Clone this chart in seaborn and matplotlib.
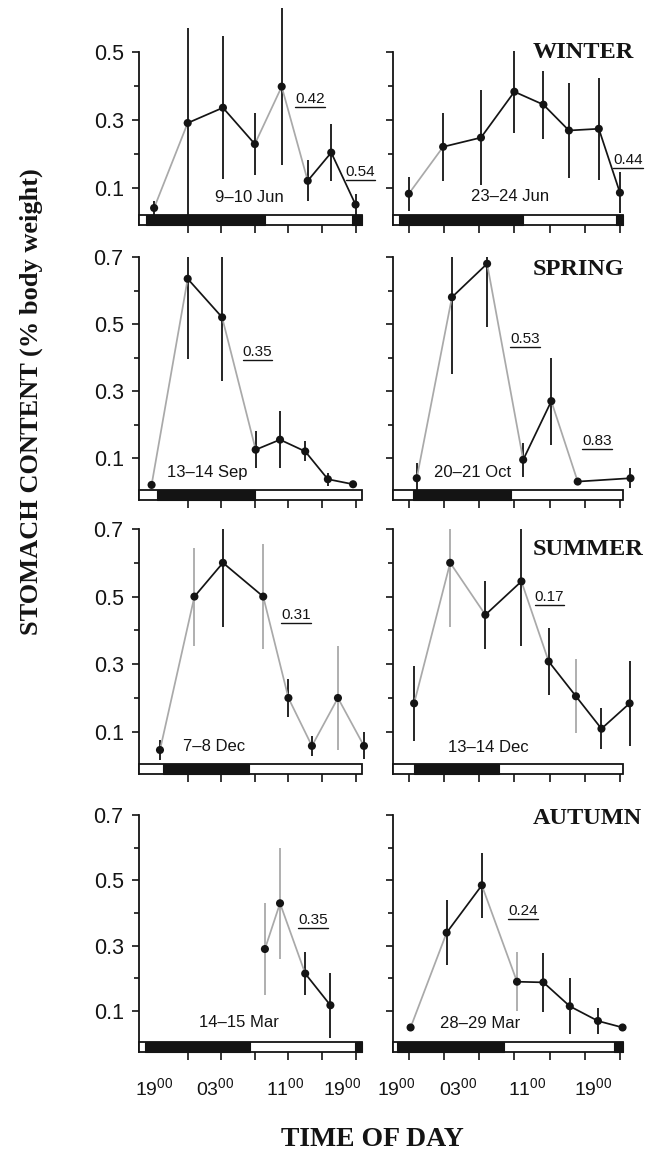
import numpy as np
import pandas as pd
import matplotlib
matplotlib.use("Agg")
import matplotlib.pyplot as plt
from matplotlib.patches import Rectangle
from matplotlib.collections import LineCollection
from matplotlib.lines import Line2D
from matplotlib.transforms import IdentityTransform
import seaborn as sns

# time axis: hours after 19:00 on the first day of each survey
# ---- winter ----
JUN09_T = [0.0, 4.0, 8.2, 12.0, 15.2, 18.3, 21.1, 24.0]
JUN09_Y = [0.04, 0.29, 0.335, 0.228, 0.397, 0.12, 0.203, 0.05]
JUN09_SE = [0.02, 0.28, 0.21, 0.09, 0.23, 0.06, 0.085, 0.03]
JUN09_NIGHT = [(-1.0, 13.2), (23.6, 24.8)]
JUN09_RATES = ["0.42", "0.54"]

JUN23_T = [0.0, 3.9, 8.2, 12.0, 15.3, 18.2, 21.6, 24.0]
JUN23_Y = [0.082, 0.22, 0.247, 0.382, 0.344, 0.268, 0.273, 0.085]
JUN23_SE = [0.05, 0.1, 0.14, 0.12, 0.1, 0.14, 0.15, 0.06]
JUN23_NIGHT = [(-1.1, 13.0), (23.6, 24.4)]
JUN23_RATES = ["0.44"]

# ---- spring ----
SEP13_T = [-0.3, 4.0, 8.1, 12.1, 15.0, 18.0, 20.7, 23.7]
SEP13_Y = [0.02, 0.635, 0.52, 0.125, 0.155, 0.12, 0.037, 0.022]
SEP13_SE = [0.01, 0.24, 0.19, 0.055, 0.085, 0.03, 0.02, 0.0]
SEP13_NIGHT = [(0.35, 12.0)]
SEP13_RATES = ["0.35"]

OCT20_T = [0.9, 4.9, 8.9, 13.0, 16.2, 19.2, 25.2]
OCT20_Y = [0.04, 0.58, 0.68, 0.095, 0.27, 0.03, 0.04]
OCT20_SE = [0.045, 0.23, 0.19, 0.05, 0.13, 0.01, 0.03]
OCT20_NIGHT = [(0.45, 11.6)]
OCT20_RATES = ["0.53", "0.83"]

# ---- summer ----
DEC07_T = [0.7, 4.8, 8.2, 13.0, 16.0, 18.8, 21.9, 25.0]
DEC07_Y = [0.046, 0.5, 0.6, 0.5, 0.2, 0.058, 0.2, 0.058]
DEC07_SE = [0.03, 0.145, 0.19, 0.155, 0.055, 0.03, 0.155, 0.04]
DEC07_NIGHT = [(1.07, 11.3)]
DEC07_RATES = ["0.31"]

DEC13_T = [0.6, 4.7, 8.7, 12.8, 15.9, 19.0, 21.9, 25.1]
DEC13_Y = [0.184, 0.6, 0.446, 0.545, 0.308, 0.205, 0.109, 0.184]
DEC13_SE = [0.11, 0.19, 0.1, 0.19, 0.1, 0.11, 0.06, 0.125]
DEC13_NIGHT = [(0.57, 10.3)]
DEC13_RATES = ["0.17"]

# ---- autumn ----
MAR14_T = [13.2, 15.0, 18.0, 21.0]
MAR14_Y = [0.29, 0.43, 0.215, 0.118]
MAR14_SE = [0.14, 0.17, 0.065, 0.1]
MAR14_NIGHT = [(-1.07, 11.4), (23.9, 24.8)]
MAR14_RATES = ["0.35"]

MAR28_T = [0.2, 4.3, 8.3, 12.3, 15.3, 18.3, 21.5, 24.3]
MAR28_Y = [0.05, 0.34, 0.485, 0.19, 0.188, 0.115, 0.07, 0.05]
MAR28_SE = [0.01, 0.1, 0.1, 0.09, 0.09, 0.085, 0.04, 0.01]
MAR28_NIGHT = [(-1.4, 10.8), (23.3, 24.4)]
MAR28_RATES = ["0.24"]

SEASONS = ["WINTER", "SPRING", "SUMMER", "AUTUMN"]
DATES = ["9–10 Jun", "23–24 Jun", "13–14 Sep", "20–21 Oct",
         "7–8 Dec", "13–14 Dec", "14–15 Mar", "28–29 Mar"]
TIME_TICKS = [0, 4, 8, 12, 16, 20, 24]
TIME_LABELS = ["19", "03", "11", "19"]

# ---- style / layout ----
INK = "#141414"
GREY = "#a9a9a9"
COLS = {"k": INK, "g": GREY}
W, H = 653, 1155
COL_X = [(139, 230), (393, 241)]           # left px, width px
ROW_Y = [(4, 225), (257, 500), (529, 774), (815, 1052)]  # top, bottom px
ROW_LIM = [(-0.01, 0.64), (-0.025, 0.7), (-0.025, 0.7), (-0.025, 0.7)]
BAR_END = [24.8, 24.4]
XLIM = (-1.8, 25.6)
LABEL_POS = [[0, 7.3, 15.6, 22.4], [-1.4, 5.6, 13.5, 21.0]]

panels = [
    dict(t=JUN09_T, y=JUN09_Y, se=JUN09_SE, night=JUN09_NIGHT, rates=JUN09_RATES,
         seg="gkkggkk", err="kkkkkkkk", rate_xy=[(18.6, 0.36), (24.6, 0.147)], date_xy=(11.4, 0.07)),
    dict(t=JUN23_T, y=JUN23_Y, se=JUN23_SE, night=JUN23_NIGHT, rates=JUN23_RATES,
         seg="gkkkkkk", err="kkkkkkkk", rate_xy=[(24.9, 0.18)], date_xy=(11.5, 0.074)),
    dict(t=SEP13_T, y=SEP13_Y, se=SEP13_SE, night=SEP13_NIGHT, rates=SEP13_RATES,
         seg="gkgkkkk", err="kkkkkkkk", rate_xy=[(12.3, 0.418)], date_xy=(6.3, 0.058)),
    dict(t=OCT20_T, y=OCT20_Y, se=OCT20_SE, night=OCT20_NIGHT, rates=OCT20_RATES,
         seg="gkgkgk", err="kkkkkkk", rate_xy=[(13.2, 0.454), (21.4, 0.15)], date_xy=(7.2, 0.058)),
    dict(t=DEC07_T, y=DEC07_Y, se=DEC07_SE, night=DEC07_NIGHT, rates=DEC07_RATES,
         seg="gkkgggg", err="kgkgkkgk", rate_xy=[(16.9, 0.446)], date_xy=(7.1, 0.055)),
    dict(t=DEC13_T, y=DEC13_Y, se=DEC13_SE, night=DEC13_NIGHT, rates=DEC13_RATES,
         seg="ggkgkkk", err="kgkkkgkk", rate_xy=[(16.0, 0.498)], date_xy=(9.0, 0.052)),
    dict(t=MAR14_T, y=MAR14_Y, se=MAR14_SE, night=MAR14_NIGHT, rates=MAR14_RATES,
         seg="ggk", err="ggkk", rate_xy=[(18.9, 0.379)], date_xy=(10.1, 0.064)),
    dict(t=MAR28_T, y=MAR28_Y, se=MAR28_SE, night=MAR28_NIGHT, rates=MAR28_RATES,
         seg="gkgkkkk", err="kkkgkkkk", rate_xy=[(13.0, 0.406)], date_xy=(8.1, 0.061)),
]
SEASON_Y = [0.78, 0.95, 0.918, 0.987]

sns.set_style("ticks")
plt.rcParams["font.family"] = ["Liberation Sans", "DejaVu Sans"]
plt.rcParams["mathtext.default"] = "regular"

fig = plt.figure(figsize=(W / 100, H / 100), dpi=100)
serif = dict(family="Liberation Serif", weight="bold", color=INK)
rate_texts = []

for i, p in enumerate(panels):
    row, col = divmod(i, 2)
    x0, w = COL_X[col]
    top, bot = ROW_Y[row]
    ax = fig.add_axes([x0 / W, 1 - bot / H, w / W, (bot - top) / H])
    ylo, yhi = ROW_LIM[row]
    bar_top = ylo + 0.03
    ax.set_xlim(*XLIM)
    ax.set_ylim(ylo, yhi)

    df = pd.DataFrame({"t": p["t"], "y": p["y"], "se": p["se"]})

    # error bars
    lo = np.clip(df["y"] - df["se"], bar_top, yhi)
    hi = np.clip(df["y"] + df["se"], bar_top, yhi if row > 0 else 1)
    ax.vlines(df["t"], lo, hi, colors=[COLS[c] for c in p["err"]], lw=1.3,
              zorder=2, clip_on=False)

    # connecting segments
    pts = df[["t", "y"]].to_numpy()
    segs = np.stack([pts[:-1], pts[1:]], axis=1)
    ax.add_collection(LineCollection(segs, colors=[COLS[c] for c in p["seg"]],
                                     linewidths=1.25, zorder=3, clip_on=False))
    sns.scatterplot(data=df, x="t", y="y", ax=ax, color=INK, s=34,
                    edgecolor="none", zorder=4, legend=False, clip_on=False)

    # day / night bar
    ax.add_patch(Rectangle((XLIM[0], ylo), BAR_END[col] - XLIM[0], 0.03,
                           facecolor="white", edgecolor=INK, lw=1.3, zorder=5, clip_on=False))
    for a, b in p["night"]:
        ax.add_patch(Rectangle((a, ylo), b - a, 0.03, facecolor=INK,
                               edgecolor=INK, lw=0.8, zorder=6, clip_on=False))

    # spines and ticks
    sns.despine(ax=ax, bottom=True)
    ax.spines["left"].set_bounds(ylo, 0.5 if row == 0 else 0.7)
    ax.spines["left"].set_linewidth(1.3)
    ax.spines["left"].set_color(INK)
    major = [0.1, 0.3, 0.5] if row == 0 else [0.1, 0.3, 0.5, 0.7]
    minor = [0.2, 0.4] if row == 0 else [0.2, 0.4, 0.6]
    ax.set_yticks(major)
    ax.set_yticks(minor, minor=True)
    ax.set_yticklabels([f"{v:.1f}" for v in major])
    ax.tick_params(axis="y", which="major", length=5, width=1.2, color=INK,
                   labelsize=15.5, pad=6, labelleft=(col == 0), labelcolor=INK)
    ax.tick_params(axis="y", which="minor", length=3.5, width=1.2, color=INK)

    ax.set_xticks(TIME_TICKS, minor=True)
    ax.set_xticks(LABEL_POS[col])
    ax.set_xticklabels([rf"${s}^{{00}}$" for s in TIME_LABELS])
    ax.tick_params(axis="x", which="minor", length=6, width=1.2, color=INK)
    ax.tick_params(axis="x", which="major", length=0, pad=18, labelsize=14,
                   labelbottom=(row == 3), labelcolor=INK)
    ax.set_xlabel("")
    ax.set_ylabel("")

    # texts
    ax.text(*p["date_xy"], DATES[i], ha="center", va="center", fontsize=12, color=INK)
    for r, (rx, ry) in zip(p["rates"], p["rate_xy"]):
        rate_texts.append(ax.text(rx, ry, r, ha="center", va="center",
                                  fontsize=11, color=INK, zorder=7))
    if col == 1:
        ax.text(0.581, SEASON_Y[row], SEASONS[row], transform=ax.transAxes,
                ha="left", va="center", fontsize=17.5, **serif)

fig.text(31 / W, 1 - 402 / H, "STOMACH CONTENT (% body weight)", rotation=90,
         ha="center", va="center", fontsize=19, **serif)
fig.text(372 / W, 1 - 1140 / H, "TIME OF DAY", ha="center", va="center",
         fontsize=20, **serif)

# underline the rate values
fig.canvas.draw()
renderer = fig.canvas.get_renderer()
for t in rate_texts:
    bb = t.get_window_extent(renderer)
    fig.add_artist(Line2D([bb.x0, bb.x1], [bb.y0 - 1, bb.y0 - 1],
                          transform=IdentityTransform(), color=INK, lw=1.0))

fig.savefig("out.png", dpi=100)
